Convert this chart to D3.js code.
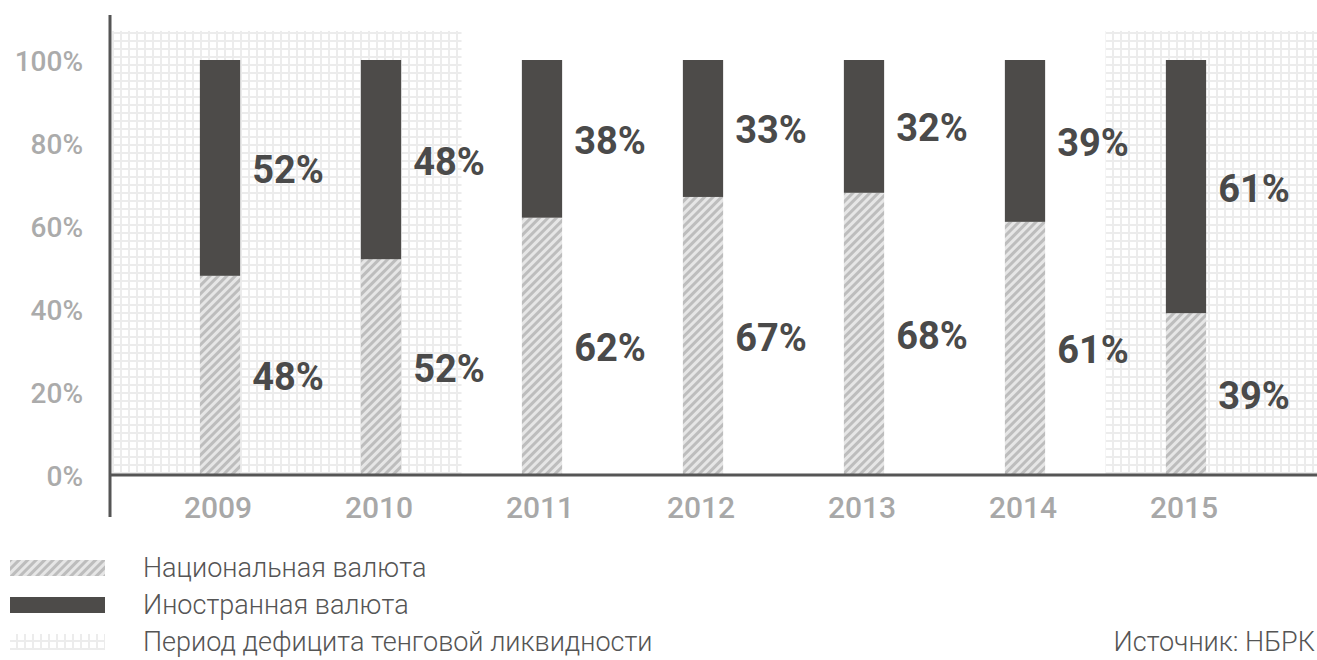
<!DOCTYPE html>
<html>
<head>
<meta charset="utf-8">
<script src="https://cdn.jsdelivr.net/npm/d3@7"></script>
<style>
  body { margin: 0; background: #fff; }
  svg { display: block; }
</style>
</head>
<body>
<div id="chart"></div>
<script>
// Data
const years = ["2009", "2010", "2011", "2012", "2013", "2014", "2015"];
const national = [48, 52, 62, 67, 68, 61, 39];
const foreign = [52, 48, 38, 33, 32, 39, 61];
const yTicks = [0, 20, 40, 60, 80, 100];
const deficitPeriods = [["2009", "2010"], ["2015", "2015"]];
const legendLabels = ["Национальная валюта", "Иностранная валюта", "Период дефицита тенговой ликвидности"];
const sourceLabel = "Источник: НБРК";

const width = 1317, height = 660;
const axisX = 110, axisY = 475;

const svg = d3.select("#chart").append("svg")
  .attr("width", width)
  .attr("height", height);

const defs = svg.append("defs");

// hatch for national currency
const hatch = defs.append("pattern")
  .attr("id", "hatch")
  .attr("patternUnits", "userSpaceOnUse")
  .attr("width", 6).attr("height", 6)
  .attr("patternTransform", "rotate(45)");
hatch.append("rect").attr("width", 6).attr("height", 6).attr("fill", "#e6e6e6");
hatch.append("rect").attr("width", 3).attr("height", 6).attr("fill", "#bdbdbd");

// grid for deficit period
const grid = defs.append("pattern")
  .attr("id", "grid")
  .attr("patternUnits", "userSpaceOnUse")
  .attr("width", 8).attr("height", 8);
grid.append("rect").attr("width", 8).attr("height", 8).attr("fill", "#ececec");
grid.append("rect").attr("x", 2).attr("y", 2).attr("width", 6).attr("height", 6).attr("fill", "#fff");

// Scales
const x = d3.scaleBand()
  .domain(years)
  .range([139.5, 1266.5])
  .paddingInner(0.75)
  .paddingOuter(0.375);

const y = d3.scaleLinear()
  .domain([0, 100])
  .range([axisY, 60]);

const step = x.step();
const bw = x.bandwidth();

// Deficit shading: from the axis (first year) or mid-gap, to mid-gap or the right edge (last year)
const periodStart = d => d[0] === years[0] ? axisX + 2 : x(d[0]) + bw / 2 - step / 2;
const periodEnd = d => d[1] === years[years.length - 1] ? width : x(d[1]) + bw / 2 + step / 2;

svg.append("g").selectAll("rect")
  .data(deficitPeriods)
  .join("rect")
  .attr("x", periodStart)
  .attr("width", d => periodEnd(d) - periodStart(d))
  .attr("y", y(107))
  .attr("height", axisY - y(107))
  .attr("fill", "url(#grid)");

// Bars
const rows = years.map((yr, i) => ({ year: yr, nat: national[i], fx: foreign[i] }));

const bars = svg.append("g");
bars.selectAll(".nat")
  .data(rows)
  .join("rect")
  .attr("class", "nat")
  .attr("x", d => x(d.year))
  .attr("width", bw)
  .attr("y", d => y(d.nat))
  .attr("height", d => y(0) - y(d.nat))
  .attr("fill", "url(#hatch)");

bars.selectAll(".fx")
  .data(rows)
  .join("rect")
  .attr("class", "fx")
  .attr("x", d => x(d.year))
  .attr("width", bw)
  .attr("y", d => y(d.nat + d.fx))
  .attr("height", d => y(d.nat) - y(d.nat + d.fx))
  .attr("fill", "#4d4b49");

// Value labels
const labelStyle = sel => sel
  .attr("font-family", "Roboto, sans-serif")
  .attr("font-weight", 700)
  .attr("font-size", 38)
  .attr("fill", "#4a4a4a")
  .attr("dominant-baseline", "central");

svg.append("g").selectAll("text")
  .data(rows)
  .join("text")
  .attr("x", d => x(d.year) + bw + 12)
  .attr("y", d => y(d.nat + d.fx / 2) + 2)
  .text(d => d.fx + "%")
  .call(labelStyle);

svg.append("g").selectAll("text")
  .data(rows)
  .join("text")
  .attr("x", d => x(d.year) + bw + 12)
  .attr("y", d => y(d.nat / 2) + 2)
  .text(d => d.nat + "%")
  .call(labelStyle);

// Y tick labels
svg.append("g").selectAll("text")
  .data(yTicks)
  .join("text")
  .attr("x", 83)
  .attr("y", d => y(d) + 1)
  .attr("text-anchor", "end")
  .attr("dominant-baseline", "central")
  .attr("font-family", "Roboto, sans-serif")
  .attr("font-weight", 500)
  .attr("font-size", 28)
  .attr("fill", "#ababab")
  .text(d => d + "%");

// Year labels
svg.append("g").selectAll("text")
  .data(years)
  .join("text")
  .attr("x", d => x(d) + bw / 2 - 2)
  .attr("y", 507)
  .attr("text-anchor", "middle")
  .attr("dominant-baseline", "central")
  .attr("font-family", "Roboto, sans-serif")
  .attr("font-weight", 500)
  .attr("font-size", 30)
  .attr("fill", "#a8a8a8")
  .text(d => d);

// Axes lines
svg.append("line")
  .attr("x1", axisX).attr("x2", axisX)
  .attr("y1", 15).attr("y2", 517)
  .attr("stroke", "#555").attr("stroke-width", 3);
svg.append("line")
  .attr("x1", axisX).attr("x2", width)
  .attr("y1", axisY).attr("y2", axisY)
  .attr("stroke", "#555").attr("stroke-width", 3);

// Legend
const legendFills = ["url(#hatch)", "#4d4b49", "url(#grid)"];
const legend = svg.append("g");
legendLabels.forEach((label, i) => {
  const ly = 568 + i * 37;
  legend.append("rect")
    .attr("x", 10).attr("y", ly - 8)
    .attr("width", 95).attr("height", 16)
    .attr("fill", legendFills[i]);
  legend.append("text")
    .attr("x", 143).attr("y", ly)
    .attr("dominant-baseline", "central")
    .attr("font-family", "Roboto, sans-serif")
    .attr("font-weight", 300)
    .attr("font-size", 27)
    .attr("fill", "#555")
    .text(label);
});

svg.append("text")
  .attr("x", 1315).attr("y", 642)
  .attr("text-anchor", "end")
  .attr("dominant-baseline", "central")
  .attr("font-family", "Roboto, sans-serif")
  .attr("font-weight", 300)
  .attr("font-size", 27)
  .attr("fill", "#555")
  .text(sourceLabel);
</script>
</body>
</html>
